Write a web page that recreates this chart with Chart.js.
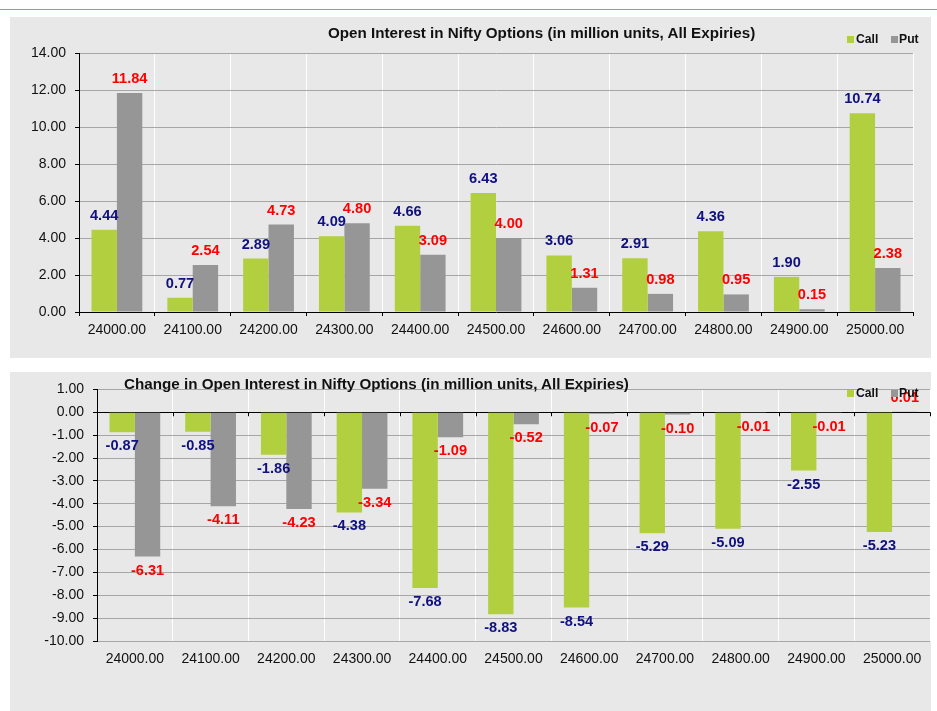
<!DOCTYPE html>
<html>
<head>
<meta charset="utf-8">
<script src="https://cdn.jsdelivr.net/npm/chart.js@4.4.1/dist/chart.umd.min.js"></script>
<style>
  body { margin: 0; background: #fff; width: 937px; height: 711px; position: relative; overflow: hidden;
         font-family: "Liberation Sans", Arial, sans-serif; }
  .topline { position: absolute; left: 0; top: 9px; width: 937px; height: 1px; background: #7ab648; }
  .panel { position: absolute; left: 10px; width: 921px; background: #e8e8e8; }
  .panel canvas { position: absolute; left: 0; top: 0; }
  .title { position: absolute; font-weight: bold; font-size: 15.2px; line-height: 18px; color: #111; white-space: nowrap; }
  .leg { position: absolute; font-weight: bold; font-size: 12.2px; line-height: 14px; color: #111; white-space: nowrap; }
  .box { position: absolute; width: 7px; height: 7px; }
</style>
</head>
<body>
<div class="topline"></div>

<div class="panel" style="top:17px;height:341px;">
  <canvas id="chartOI" width="921" height="341"></canvas>
  <div class="title" style="left:318px;top:7px;">Open Interest in Nifty Options (in million units, All Expiries)</div>
  <div class="box" style="left:837px;top:19px;background:#b2cf3f;"></div>
  <div class="leg" style="left:846px;top:15px;">Call</div>
  <div class="box" style="left:881px;top:19px;background:#969696;"></div>
  <div class="leg" style="left:889px;top:15px;">Put</div>
</div>

<div class="panel" style="top:372px;height:339px;">
  <canvas id="chartChg" width="921" height="339"></canvas>
  <div class="title" style="left:114px;top:3px;">Change in Open Interest in Nifty Options (in million units, All Expiries)</div>
  <div class="box" style="left:837px;top:18px;background:#b2cf3f;"></div>
  <div class="leg" style="left:846px;top:14px;">Call</div>
  <div class="box" style="left:881px;top:18px;background:#969696;"></div>
  <div class="leg" style="left:889px;top:14px;">Put</div>
</div>

<script>
// strikes + values (million units)
const strikes = ['24000.00', '24100.00', '24200.00', '24300.00', '24400.00', '24500.00',
                 '24600.00', '24700.00', '24800.00', '24900.00', '25000.00'];
const oiCall = [4.44, 0.77, 2.89, 4.09, 4.66, 6.43, 3.06, 2.91, 4.36, 1.90, 10.74];
const oiPut = [11.84, 2.54, 4.73, 4.80, 3.09, 4.00, 1.31, 0.98, 0.95, 0.15, 2.38];
const chgCall = [-0.87, -0.85, -1.86, -4.38, -7.68, -8.83, -8.54, -5.29, -5.09, -2.55, -5.23];
const chgPut = [-6.31, -4.11, -4.23, -3.34, -1.09, -0.52, -0.07, -0.10, -0.01, -0.01, 0.01];

const GREEN = '#b2cf3f';
const GREY = '#969696';
const FONT = '"Liberation Sans", Arial, sans-serif';

// value labels above (positive) / below (negative) each bar
const barLabels = {
  id: 'barLabels',
  afterDatasetsDraw(chart) {
    const ctx = chart.ctx;
    ctx.save();
    ctx.font = 'bold 14.6px ' + FONT;
    ctx.textAlign = 'center';
    ctx.textBaseline = 'middle';
    chart.data.datasets.forEach((ds, i) => {
      const meta = chart.getDatasetMeta(i);
      ctx.fillStyle = ds.labelColor;
      meta.data.forEach((bar, j) => {
        const v = ds.data[j];
        const y = v >= 0 ? bar.y - 14 : bar.y + 14;
        ctx.fillText(v.toFixed(2), bar.x, y);
      });
    });
    ctx.restore();
  }
};

// small black tick marks on the zero line (lower chart)
const zeroTicks = {
  id: 'zeroTicks',
  afterDraw(chart, args, opts) {
    if (!opts.show) return;
    const x = chart.scales.x, y = chart.scales.y;
    const y0 = y.getPixelForValue(0);
    const ctx = chart.ctx;
    ctx.save();
    ctx.strokeStyle = '#000';
    ctx.lineWidth = 1;
    const step = (x.right - x.left) / strikes.length;
    for (let i = 0; i <= strikes.length; i++) {
      const px = Math.round(x.left + step * i) + 0.5;
      ctx.beginPath();
      ctx.moveTo(px, y0);
      ctx.lineTo(px, y0 + 4);
      ctx.stroke();
    }
    ctx.restore();
  }
};

function makeChart(id, callData, putData, opts) {
  const ctx = document.getElementById(id).getContext('2d');
  return new Chart(ctx, {
    type: 'bar',
    data: {
      labels: strikes,
      datasets: [
        { label: 'Call', data: callData, backgroundColor: GREEN, labelColor: '#101080',
          categoryPercentage: 0.67, barPercentage: 1 },
        { label: 'Put', data: putData, backgroundColor: GREY, labelColor: '#ff0000',
          categoryPercentage: 0.67, barPercentage: 1 }
      ]
    },
    options: {
      responsive: false,
      animation: false,
      devicePixelRatio: 1,
      layout: { padding: opts.padding },
      plugins: {
        legend: { display: false },
        title: { display: false },
        tooltip: { enabled: false },
        zeroTicks: { show: opts.zeroTicks }
      },
      scales: {
        x: {
          offset: true,
          grid: { color: '#ffffff', offset: true, tickLength: 4, tickColor: opts.xTickColor },
          border: { display: false },
          ticks: { color: '#111', font: { family: FONT, size: 14 }, padding: opts.xPad, maxRotation: 0 },
          afterFit(scale) { scale.height = opts.xHeight; }
        },
        y: {
          min: opts.min, max: opts.max,
          grid: {
            color: c => (c.tick && c.tick.value === 0 ? '#000000' : '#a6a6a6'),
            tickLength: 4, tickColor: '#000'
          },
          border: { display: true, color: '#000' },
          ticks: { stepSize: opts.step, color: '#111', font: { family: FONT, size: 14 }, padding: 9,
                   callback: v => v.toFixed(2) },
          afterFit(scale) { scale.width = opts.yWidth; }
        }
      }
    },
    plugins: [barLabels, zeroTicks]
  });
}

let chartOI = makeChart('chartOI', oiCall, oiPut, {
  min: 0, max: 14, step: 2, yWidth: 69, xHeight: 46, xPad: 6, xTickColor: '#000',
  padding: { top: 36, right: 18, left: 0, bottom: 0 }, zeroTicks: false
});

let chartChg = makeChart('chartChg', chgCall, chgPut, {
  min: -10, max: 1, step: 1, yWidth: 87, xHeight: 70, xPad: 6, xTickColor: 'rgba(0,0,0,0)',
  padding: { top: 10, right: 1, left: 0, bottom: 0 }, zeroTicks: true
});
</script>
</body>
</html>
